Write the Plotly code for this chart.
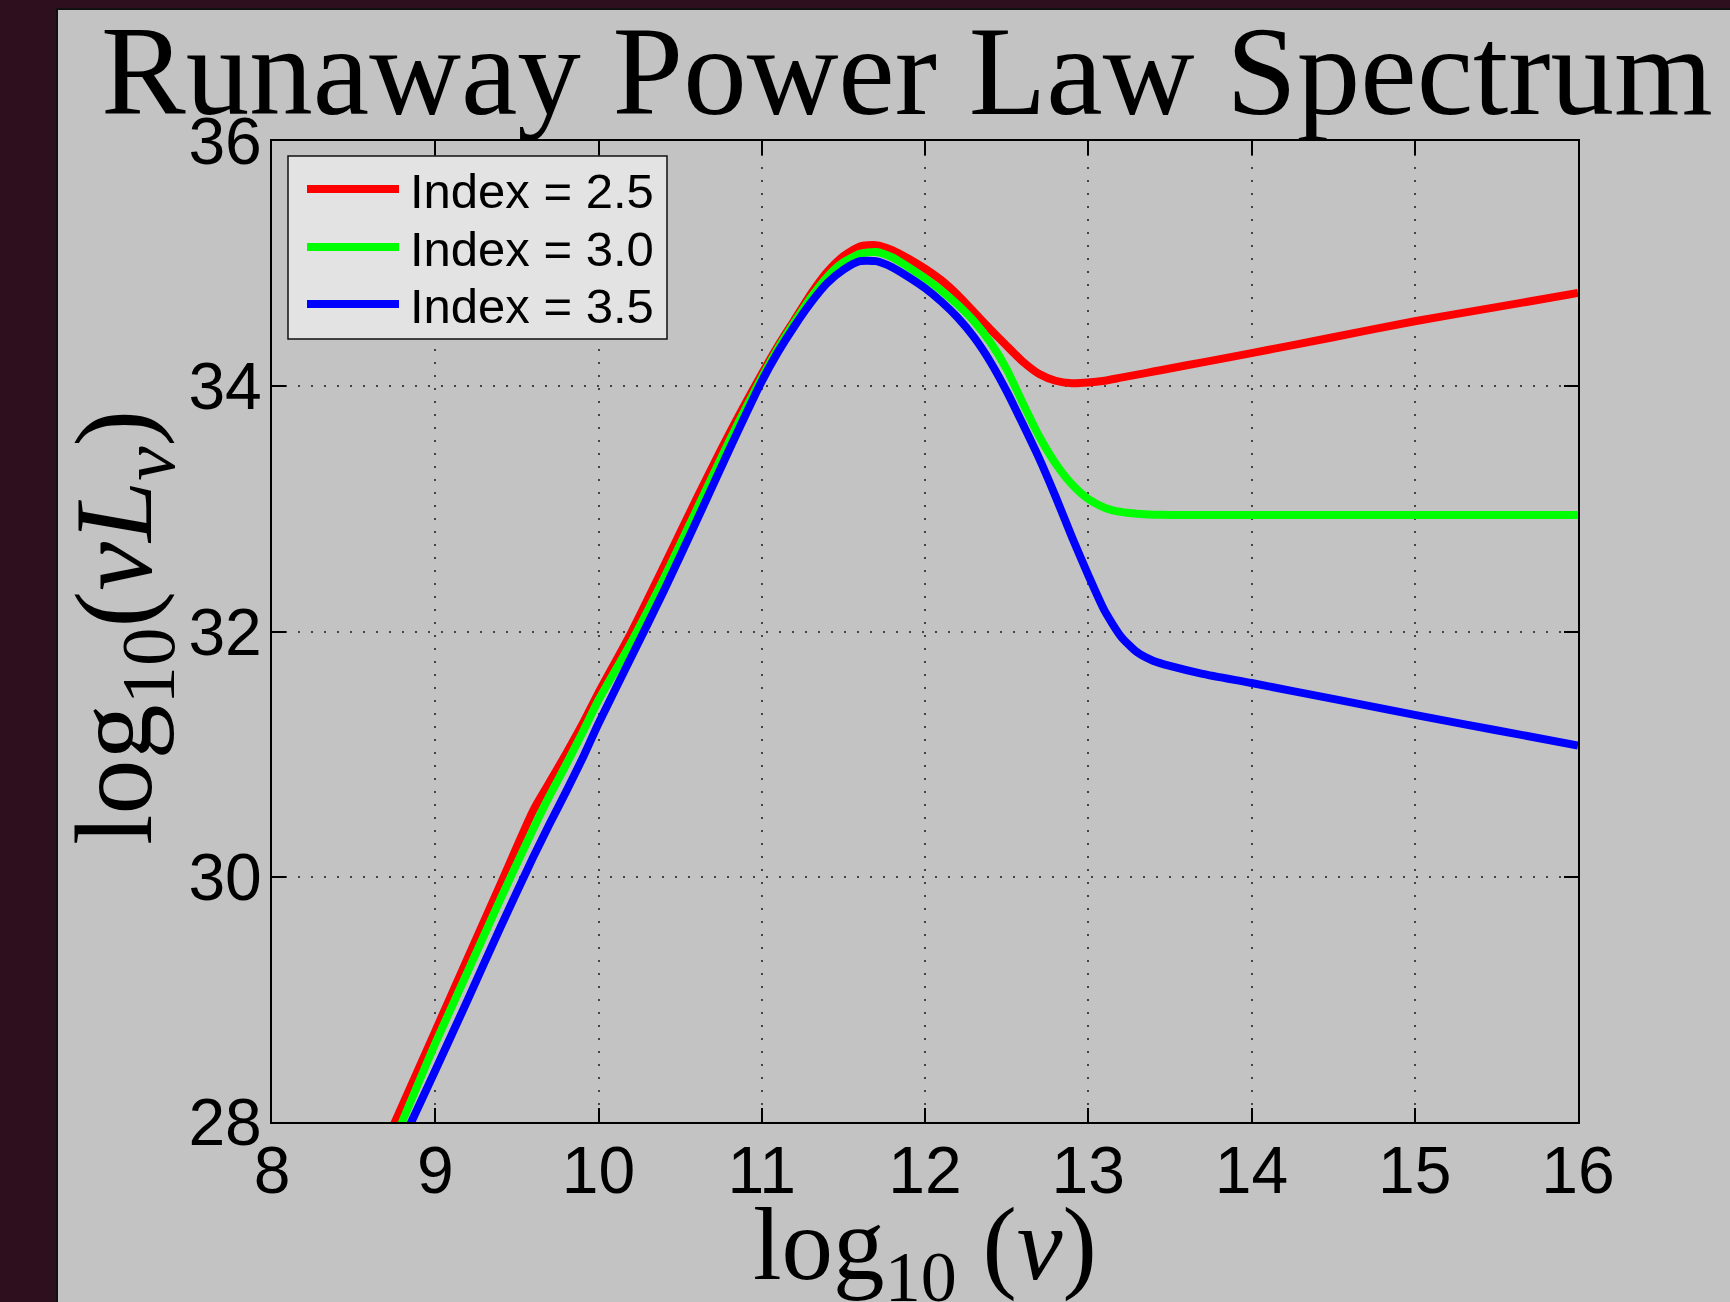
import plotly.graph_objects as go

# ---- data ----
log_nu = [8.7, 9.0, 9.2, 9.4, 9.6, 9.7, 9.8, 9.9, 10.0, 10.2, 10.4, 10.6, 10.8,
          11.0, 11.1, 11.2, 11.3, 11.4, 11.5, 11.6, 11.7, 11.8, 11.9,
          12.0, 12.1, 12.2, 12.3, 12.4, 12.5, 12.6, 12.7, 12.8, 12.9,
          13.0, 13.1, 13.2, 13.3, 13.4, 13.5, 13.7, 14.0, 14.5, 15.0, 15.5, 16.0]

index_2_5 = [27.84, 28.74, 29.34, 29.94, 30.54, 30.77, 31.00, 31.24, 31.50, 31.99, 32.53, 33.08, 33.61,
             34.10, 34.33, 34.54, 34.75, 34.93, 35.06, 35.14, 35.15, 35.11, 35.04,
             34.96, 34.865, 34.745, 34.605, 34.465, 34.33, 34.20, 34.10, 34.045, 34.025,
             34.03, 34.045, 34.07, 34.095, 34.12, 34.145, 34.195, 34.27, 34.40, 34.53, 34.645, 34.76]

index_3_0 = [27.69, 28.64, 29.23, 29.82, 30.39, 30.66, 30.91, 31.17, 31.44, 31.91, 32.43, 32.99, 33.55,
             34.07, 34.31, 34.52, 34.72, 34.89, 35.01, 35.08, 35.095, 35.05, 34.97,
             34.88, 34.78, 34.665, 34.53, 34.36, 34.14, 33.86, 33.59, 33.37, 33.20,
             33.08, 33.01, 32.975, 32.96, 32.953, 32.95, 32.95, 32.95, 32.95, 32.95, 32.95, 32.95]

index_3_5 = [27.56, 28.42, 29.00, 29.59, 30.16, 30.43, 30.69, 30.96, 31.25, 31.79, 32.33, 32.90, 33.48,
             34.04, 34.28, 34.49, 34.68, 34.84, 34.95, 35.02, 35.02, 34.97, 34.89,
             34.80, 34.69, 34.56, 34.40, 34.20, 33.96, 33.69, 33.41, 33.10, 32.77,
             32.46, 32.17, 31.96, 31.83, 31.76, 31.72, 31.655, 31.58, 31.45, 31.32, 31.195, 31.07]

series_names = ["Index = 2.5", "Index = 3.0", "Index = 3.5"]
series_values = [index_2_5, index_3_0, index_3_5]
series_colors = ["#ff0000", "#00ff00", "#0000ff"]

x_ticks = [8, 9, 10, 11, 12, 13, 14, 15, 16]
y_ticks = [28, 30, 32, 34, 36]

# ---- geometry (pixels) ----
W, H = 1730, 1302
ML, MR, MT, MB = 272, 152, 141, 180
PW, PH = W - ML - MR, H - MT - MB


def px(X):
    return (X - ML) / PW


def py(Y):
    return (H - MB - Y) / PH


GRAY = "#c3c3c3"
DARK = "#2e0f1e"

fig = go.Figure()
for name, vals, col in zip(series_names, series_values, series_colors):
    fig.add_trace(go.Scatter(x=log_nu, y=vals, mode="lines", name=name,
                             line=dict(color=col, width=8, shape="spline", smoothing=0.6),
                             showlegend=False))

shapes = [
    # figure panel
    dict(type="rect", xref="paper", yref="paper", x0=px(57), x1=px(W + 10), y0=py(H + 10), y1=py(9),
         fillcolor=GRAY, line=dict(color="#111111", width=2), layer="below"),
    # legend box
    dict(type="rect", xref="paper", yref="paper", x0=px(288), x1=px(667), y0=py(339), y1=py(156),
         fillcolor="#e3e3e3", line=dict(color="#111111", width=1.5), layer="above"),
]
annotations = []
legend_rows = [189, 247, 304]
for name, col, ry in zip(series_names, series_colors, legend_rows):
    shapes.append(dict(type="line", xref="paper", yref="paper", x0=px(307), x1=px(399),
                       y0=py(ry), y1=py(ry), line=dict(color=col, width=8), layer="above"))
    annotations.append(dict(text=name, xref="paper", yref="paper", x=px(408), y=py(ry + 2),
                            xanchor="left", yanchor="middle", showarrow=False,
                            font=dict(family="Liberation Sans, Arial", size=49, color="black")))

# axis titles
annotations.append(dict(text="log<sub>10</sub>(<i>ν</i><i>L</i><sub><i>ν</i></sub>)",
                        xref="paper", yref="paper", x=px(122), y=py(628), textangle=-90,
                        xanchor="center", yanchor="middle", showarrow=False,
                        font=dict(family="Liberation Serif, serif", size=110, color="black")))
annotations.append(dict(text="log<sub>10</sub> (<i>ν</i>)",
                        xref="paper", yref="paper", x=px(925), y=py(1252),
                        xanchor="center", yanchor="middle", showarrow=False,
                        font=dict(family="Liberation Serif, serif", size=103, color="black")))

axis_common = dict(showline=True, linecolor="black", linewidth=2, mirror="ticks",
                   ticks="inside", ticklen=14, tickwidth=1.5, tickcolor="black",
                   showgrid=True, gridcolor="#444444", gridwidth=1.5, griddash="2px,11px",
                   zeroline=False, tickfont=dict(family="Liberation Sans, Arial", size=66, color="black"))

fig.update_layout(
    width=W, height=H,
    margin=dict(l=ML, r=MR, t=MT, b=MB, pad=0),
    paper_bgcolor=DARK, plot_bgcolor="rgba(0,0,0,0)",
    title=dict(text="Runaway Power Law Spectrum", xref="paper", x=px(907), xanchor="center",
               yref="container", y=1 - 70 / H, yanchor="middle",
               font=dict(family="Liberation Serif, serif", size=127, color="black")),
    xaxis=dict(range=[8, 16], tickvals=x_ticks, ticktext=[str(v) for v in x_ticks],
               ticklabelstandoff=-10, **axis_common),
    yaxis=dict(range=[28, 36], tickvals=y_ticks, ticktext=[str(v) for v in y_ticks],
               ticklabelstandoff=-5, **axis_common),
    shapes=shapes, annotations=annotations, showlegend=False,
)

fig.write_html("out.html")
